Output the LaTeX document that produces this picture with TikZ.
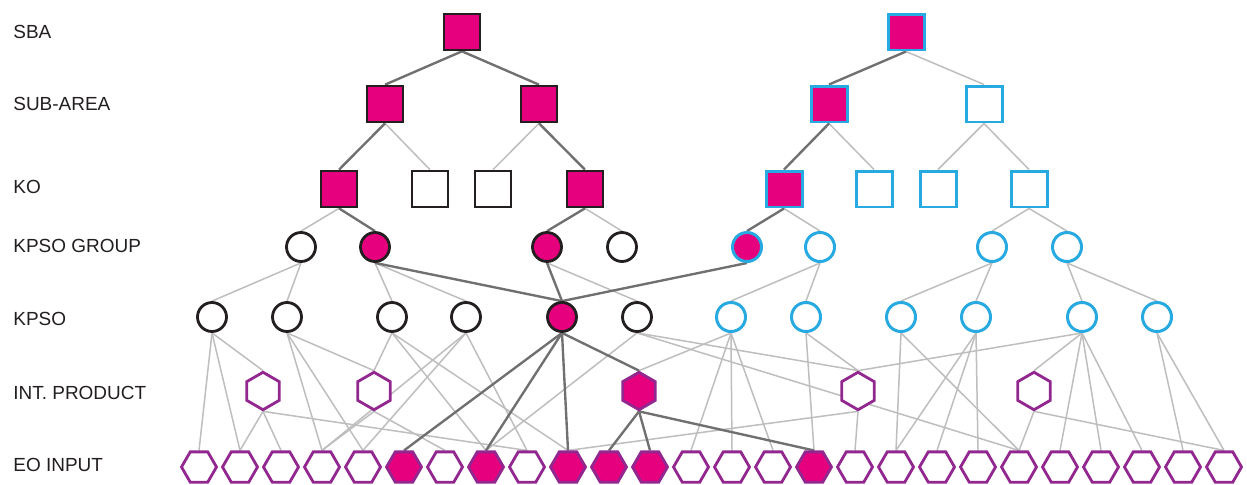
\documentclass[tikz,border=0pt]{standalone}
\usepackage{fontspec}
\newfontfamily\labelfont{Liberation Sans}
\usetikzlibrary{shapes.geometric,backgrounds}

\definecolor{hotpink}{RGB}{230,0,126}
\definecolor{skyline}{RGB}{39,170,225}
\definecolor{plum}{RGB}{146,39,143}
\definecolor{inkblack}{RGB}{35,31,32}
\definecolor{heavyedge}{RGB}{112,112,112}
\definecolor{liteedge}{RGB}{190,190,190}

% row heights (in px of the picture)
\def\ySBA{32}
\def\ySub{104}
\def\yKO{189}
\def\yGrp{247}
\def\yKPSO{317}
\def\yInt{391}
\def\yEO{467}

\begin{document}
\begin{tikzpicture}[x=0.02cm, y=-0.02cm]
    \tikzstyle{sq}=[rectangle, draw=inkblack, fill=white, line width=1.5pt, minimum size=0.72cm, inner sep=0pt]
    \tikzstyle{sqhot}=[sq, fill=hotpink]
    \tikzstyle{sqsky}=[sq, draw=skyline, line width=1.7pt]
    \tikzstyle{sqskyhot}=[sqsky, fill=hotpink]
    \tikzstyle{rnd}=[circle, draw=inkblack, fill=white, line width=1.6pt, minimum size=0.58cm, inner sep=0pt]
    \tikzstyle{rndhot}=[rnd, fill=hotpink]
    \tikzstyle{rndsky}=[rnd, draw=skyline, line width=1.7pt]
    \tikzstyle{rndskyhot}=[rndsky, fill=hotpink]
    \tikzstyle{eohex}=[regular polygon, regular polygon sides=6, draw=plum, fill=white, line width=1.6pt, minimum size=0.70cm, inner sep=0pt]
    \tikzstyle{eohot}=[eohex, fill=hotpink]
    \tikzstyle{inthex}=[eohex, shape border rotate=30, minimum size=0.75cm]
    \tikzstyle{inthot}=[inthex, fill=hotpink]
    \tikzstyle{lite}=[draw=liteedge, line width=0.85pt]
    \tikzstyle{heavy}=[draw=heavyedge, line width=1.35pt]
    \tikzstyle{annot}=[anchor=west, inner sep=0pt, text=inkblack, font=\labelfont\fontsize{10.8}{13}\selectfont]

    \useasboundingbox (0,0) rectangle (1247,484);

    % Annotate the levels
    \node[annot] (lSBA) at (13,\ySBA) {SBA};
    \node[annot] (lSub) at (13,\ySub) {SUB-AREA};
    \node[annot] (lKO) at (13,187) {KO};
    \node[annot] (lGrp) at (13,246) {KPSO GROUP};
    \node[annot] (lKPSO) at (13,319) {KPSO};
    \node[annot] (lInt) at (13,393) {INT. PRODUCT};
    \node[annot] (lEO) at (13,465) {EO INPUT};

    % Draw the square levels
    \foreach \name / \x / \kind in {S1/462/sqhot, S2/906/sqskyhot}
        \node[\kind] (\name) at (\x,\ySBA) {};
    \foreach \name / \x / \kind in {A1/385/sqhot, A2/539/sqhot, A3/829/sqskyhot, A4/984/sqsky}
        \node[\kind] (\name) at (\x,\ySub) {};
    \foreach \name / \x / \kind in {K1/339/sqhot, K2/430/sq, K3/493/sq, K4/585/sqhot,
                                    K5/784/sqskyhot, K6/874/sqsky, K7/938/sqsky, K8/1029/sqsky}
        \node[\kind] (\name) at (\x,\yKO) {};

    % Draw the circle levels
    \foreach \name / \x / \kind in {G1/301/rnd, G2/375/rndhot, G3/547/rndhot, G4/622/rnd,
                                    G5/747/rndskyhot, G6/820/rndsky, G7/992/rndsky, G8/1067/rndsky}
        \node[\kind] (\name) at (\x,\yGrp) {};
    \foreach \name / \x / \kind in {P1/212/rnd, P2/287/rnd, P3/392/rnd, P4/466/rnd,
                                    P5/562/rndhot, P6/637/rnd, P7/731/rndsky, P8/806/rndsky,
                                    P9/901/rndsky, P10/976/rndsky, P11/1082/rndsky, P12/1157/rndsky}
        \node[\kind] (\name) at (\x,\yKPSO) {};

    % Draw the hexagon levels
    \foreach \name / \x / \kind in {I1/263/inthex, I2/374/inthex, I3/639/inthot, I4/858/inthex, I5/1034/inthex}
        \node[\kind] (\name) at (\x,\yInt) {};
    \foreach \i in {0,1,2,3,4,6,8,12,13,14,16,17,18,19,20,21,22,23,24,25}
        \node[eohex] (E\i) at ({199+41*\i},\yEO) {};
    \foreach \i in {5,7,9,10,11,15}
        \node[eohot] (E\i) at ({199+41*\i},\yEO) {};

    \begin{scope}[on background layer]
        \fill[white] (0,0) rectangle (1247,484);

        % Connect the plain links
        \foreach \a / \b in {S2/A4, A1/K2, A2/K3, A3/K6, A4/K7, A4/K8,
                             K1/G1, K4/G4, K5/G6, K8/G7, K8/G8,
                             G1/P1, G1/P2, G2/P3, G2/P4, G3/P6, G6/P7, G6/P8,
                             G7/P9, G7/P10, G8/P11, G8/P12,
                             P1/E0, P1/E1, P1/I1, P2/E3, P2/E4, P2/I2,
                             P3/I2, P3/E7, P3/E9, P4/E3, P4/E4, P4/E8,
                             I1/E1, I1/E2, I1/E8, I2/E3, I2/E6,
                             P6/E7, P6/I4, P6/E20, P7/I3, P7/E12, P7/E13, P7/E14,
                             P8/I4, P8/E15, P9/E17, P9/E20, P10/E17, P10/E18, P10/E19,
                             I4/E9, I4/E16, P11/I4, P11/I5, P11/E21, P11/E22, P11/E23,
                             I5/E20, I5/E25, P12/E24, P12/E25}
            \draw[lite] (\a.south) -- (\b.north);

        % Connect the highlighted path
        \foreach \a / \b in {S1/A1, S1/A2, A1/K1, A2/K4, K1/G2, K4/G3,
                             S2/A3, A3/K5, K5/G5,
                             G2/P5, G3/P5, G5/P5,
                             P5/E5, P5/E7, P5/E9, P5/I3,
                             I3/E10, I3/E11, I3/E15}
            \draw[heavy] (\a.south) -- (\b.north);
    \end{scope}

\end{tikzpicture}
\end{document}
